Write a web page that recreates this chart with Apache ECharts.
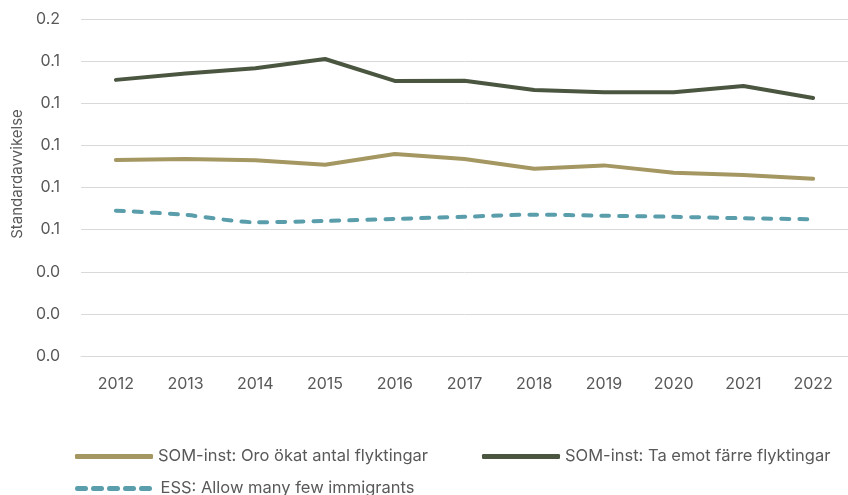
<!DOCTYPE html>
<html>
<head>
<meta charset="utf-8">
<script src="https://cdn.jsdelivr.net/npm/echarts@6/dist/echarts.min.js"></script>
<style>
  html, body { margin: 0; padding: 0; background: #fff; }
  #chart { width: 848px; height: 495px; }
</style>
</head>
<body>
<div id="chart"></div>
<script>
const years = ['2012', '2013', '2014', '2015', '2016', '2017', '2018', '2019', '2020', '2021', '2022'];

const oroName = 'SOM-inst: Oro ökat antal flyktingar';
const oroValues = [0.0931, 0.0935, 0.0929, 0.0908, 0.0959, 0.0935, 0.0889, 0.0905, 0.0870, 0.0859, 0.0842];

const farreName = 'SOM-inst: Ta emot färre flyktingar';
const farreValues = [0.1311, 0.1341, 0.1366, 0.1410, 0.1306, 0.1307, 0.1263, 0.1252, 0.1252, 0.1282, 0.1225];

const essName = 'ESS: Allow many few immigrants';
const essValues = [0.0690, 0.0670, 0.0635, 0.0641, 0.0651, 0.0661, 0.0671, 0.0666, 0.0661, 0.0654, 0.0649];

const yAxisTitle = 'Standardavvikelse';

const font = 'Inter, "Noto Sans", sans-serif';
const textColor = '#595959';

const chart = echarts.init(document.getElementById('chart'));

const legendText = { fontFamily: font, fontSize: 16.5, color: textColor };

const option = {
    animation: false,
    grid: { left: 81, right: -7, top: 19, bottom: 139 },
    legend: [
        {
            data: [oroName], left: 70, top: 443, itemWidth: 78, itemHeight: 5,
            textStyle: legendText, icon: 'roundRect'
        },
        {
            data: [farreName], left: 477, top: 443, itemWidth: 78, itemHeight: 5,
            textStyle: legendText, icon: 'roundRect'
        },
        {
            data: [essName], left: 70, top: 475, itemWidth: 78, itemHeight: 5,
            textStyle: legendText,
            itemStyle: { opacity: 0 },
            lineStyle: { width: 5, type: [8, 8], cap: 'round', color: '#5a9dab' }
        }
    ],
    graphic: [{
        type: 'text',
        x: 17,
        y: 174,
        rotation: Math.PI / 2,
        style: {
            text: yAxisTitle,
            font: '15px ' + font,
            fill: textColor,
            align: 'center',
            verticalAlign: 'middle'
        }
    }],
    xAxis: {
        type: 'category',
        data: years,
        boundaryGap: true,
        axisLine: { lineStyle: { color: '#d9d9d9', width: 1 } },
        axisTick: { show: false },
        axisLabel: { margin: 20, fontFamily: font, fontSize: 16, color: textColor }
    },
    yAxis: {
        type: 'value',
        min: 0,
        max: 0.16,
        interval: 0.02,
        axisLabel: {
            margin: 21,
            fontFamily: font,
            fontSize: 16,
            color: textColor,
            formatter: v => v.toFixed(1)
        },
        splitLine: { lineStyle: { color: '#d9d9d9', width: 1 } }
    },
    series: [
        {
            name: oroName,
            type: 'line',
            data: oroValues,
            symbol: 'none',
            lineStyle: { color: '#a59762', width: 4, cap: 'round' },
            itemStyle: { color: '#a59762' }
        },
        {
            name: farreName,
            type: 'line',
            data: farreValues,
            symbol: 'none',
            lineStyle: { color: '#4b5641', width: 4, cap: 'round' },
            itemStyle: { color: '#4b5641' }
        },
        {
            name: essName,
            type: 'line',
            data: essValues,
            symbol: 'none',
            smooth: 0.3,
            lineStyle: { color: '#5a9dab', width: 4, type: [8, 10], cap: 'round' },
            itemStyle: { color: '#5a9dab' }
        }
    ]
};

chart.setOption(option);
</script>
</body>
</html>
